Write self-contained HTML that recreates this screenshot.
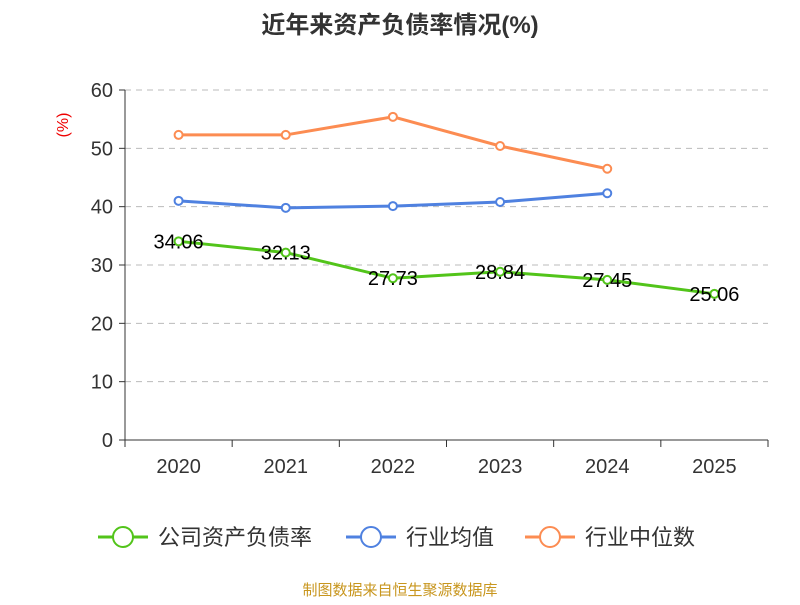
<!DOCTYPE html>
<html><head><meta charset="utf-8"><style>
body{margin:0;background:#fff;width:800px;height:600px;overflow:hidden;font-family:"Liberation Sans","Noto Sans CJK SC",sans-serif;}
</style></head><body>
<svg id="chart" width="800" height="600" xmlns="http://www.w3.org/2000/svg">
<text x="400" y="33" text-anchor="middle" font-size="24" font-weight="bold" fill="#333" font-family="Liberation Sans,Noto Sans CJK SC,sans-serif">近年来资产负债率情况(%)</text>
<text transform="translate(68,125) rotate(-90)" text-anchor="middle" font-size="16" fill="#e00">(%)</text>
<g id="grid"></g><g id="axes"></g><g id="series"></g>
<g id="legend"></g>
<text x="400" y="595" text-anchor="middle" font-size="15" fill="#c8961e" font-family="Liberation Sans,Noto Sans CJK SC,sans-serif">制图数据来自恒生聚源数据库</text>
</svg>
<script>
const categories=["2020","2021","2022","2023","2024","2025"];
const companyValues=[34.06,32.13,27.73,28.84,27.45,25.06];
const industryAvg=[41.0,39.8,40.1,40.8,42.3];
const industryMedian=[52.3,52.3,55.4,50.4,46.5];
const yTicks=[0,10,20,30,40,50,60];
const NS="http://www.w3.org/2000/svg";
const x0=125,x1=768,yTop=90,yBot=440;
const bw=(x1-x0)/categories.length;
const xs=i=>x0+bw*(i+0.5);
const ys=v=>yBot-(v/60)*(yBot-yTop);
function mk(tag,attrs,parent){const e=document.createElementNS(NS,tag);for(const k in attrs)e.setAttribute(k,attrs[k]);parent.appendChild(e);return e;}
const grid=document.getElementById('grid'),axes=document.getElementById('axes'),ser=document.getElementById('series'),leg=document.getElementById('legend');
yTicks.forEach(t=>{
 if(t>0){const l=mk('line',{x1:x0,x2:x1,y1:ys(t),y2:ys(t),stroke:'#bbb','stroke-dasharray':'6,5'},grid);
 
 }
 const tk=mk('line',{x1:x0-6,x2:x0,y1:ys(t),y2:ys(t),stroke:'#333'},axes);
 
 
 const tx=mk('text',{x:x0-12,y:ys(t)+7,'text-anchor':'end','font-size':20,fill:'#333'},axes);tx.textContent=t;
 
 
});
const ya=mk('line',{x1:x0,x2:x0,y1:yTop,y2:yBot,stroke:'#333'},axes);


const xa=mk('line',{x1:x0,x2:x1,y1:yBot,y2:yBot,stroke:'#333'},axes);


for(let i=0;i<=categories.length;i++){const t=mk('line',{x1:x0+bw*i,x2:x0+bw*i,y1:yBot,y2:yBot+7,stroke:'#333'},axes);
 
 }
categories.forEach((c,i)=>{const t=mk('text',{x:xs(i),y:yBot+33,'text-anchor':'middle','font-size':20,fill:'#333'},axes);t.textContent=c;
 
 });
function line(vals,color,name,labels){
 const g=mk('g',{},ser);
 
 
 mk('polyline',{points:vals.map((v,i)=>xs(i)+','+ys(v)).join(' '),fill:'none',stroke:color,'stroke-width':3},g);
 vals.forEach((v,i)=>{const c=mk('circle',{cx:xs(i),cy:ys(v),r:4,fill:'#fff',stroke:color,'stroke-width':2},g);
  
  
  if(labels){const t=mk('text',{x:xs(i),y:ys(v)+7,'text-anchor':'middle','font-size':20,fill:'#000'},g);t.textContent=v.toFixed(2);
  
  }});
}
line(industryMedian,'#fc8c52','industry-median-line',false);
line(industryAvg,'#4f81e0','industry-average-line',false);
line(companyValues,'#52c41a','company-ratio-line',true);
const items=[["公司资产负债率","#52c41a",98],["行业均值","#4f81e0",346],["行业中位数","#fc8c52",525]];
items.forEach(it=>{const g=mk('g',{},leg);
 
 
 mk('line',{x1:it[2],x2:it[2]+50,y1:537,y2:537,stroke:it[1],'stroke-width':3},g);
 mk('circle',{cx:it[2]+25,cy:537,r:10,fill:'#fff',stroke:it[1],'stroke-width':2},g);
 const t=mk('text',{x:it[2]+60,y:545,'font-size':22,fill:'#333'},g);t.textContent=it[0];});
</script>
</body></html>
